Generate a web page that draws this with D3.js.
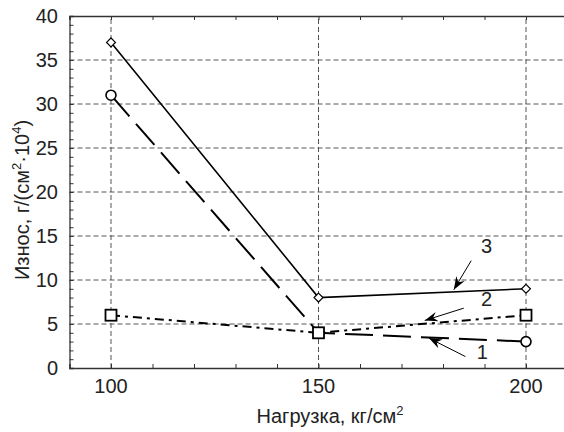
<!DOCTYPE html>
<html>
<head>
<meta charset="utf-8">
<script src="https://cdn.jsdelivr.net/npm/d3@7"></script>
<style>
  body { margin: 0; background: #fff; }
  text { font-family: "Liberation Sans", Arial, Helvetica, sans-serif; fill: #222; }
</style>
</head>
<body>
<div class="chart"></div>
<script>
// load values, kg/cm2
var loads = [100, 150, 200];
// wear values for each curve
var wear1 = [31, 4, 3];
var wear2 = [6, 4, 6];
var wear3 = [37, 8, 9];

var xTicks = [100, 150, 200];
var yTicks = [0, 5, 10, 15, 20, 25, 30, 35, 40];

// curve labels and arrows, in data units: label pos, arrow from, arrow to
var labelNames = ["1", "2", "3"];
var labelPos = [[189.5, 1.8], [190.5, 7.8], [190.5, 13.9]];
var arrowFrom = [[185.4, 1.3], [185, 6.8], [186.8, 12.2]];
var arrowTo = [[176.6, 3.4], [175.6, 5.4], [182.6, 8.9]];

var width = 564, height = 432;

var x = d3.scaleLinear().domain([90, 210]).range([69.5, 567.5]);
var y = d3.scaleLinear().domain([0, 40]).range([368, 16]);

var svg = d3.select(".chart")
    .append("svg")
    .attr("width", width)
    .attr("height", height);

svg.append("defs").append("marker")
    .attr("id", "arrow")
    .attr("viewBox", "0 0 12 10")
    .attr("refX", 12)
    .attr("refY", 5)
    .attr("markerWidth", 13)
    .attr("markerHeight", 11)
    .attr("markerUnits", "userSpaceOnUse")
    .attr("orient", "auto")
  .append("path")
    .attr("d", "M0,0.5 L12,5 L0,9.5 L4,5 Z")
    .style("fill", "#000");

// grid lines
svg.append("g")
    .selectAll("line")
    .data(yTicks.filter(function(d) { return d > 0 && d < 40; }))
    .enter().append("line")
    .attr("x1", x(90)).attr("x2", width)
    .attr("y1", function(d) { return y(d); })
    .attr("y2", function(d) { return y(d); })
    .style("stroke", "#555")
    .style("stroke-dasharray", "5,3");

svg.append("g")
    .selectAll("line")
    .data(xTicks)
    .enter().append("line")
    .attr("y1", y(0)).attr("y2", y(40))
    .attr("x1", function(d) { return x(d); })
    .attr("x2", function(d) { return x(d); })
    .style("stroke", "#555")
    .style("stroke-dasharray", "5,3");

// axes, ticks pointing inward
var xAxis = d3.axisBottom(x).tickValues(d3.range(90, 211, 10)).tickSize(-4).tickFormat("");
var xTop = d3.axisTop(x).tickValues(d3.range(90, 211, 10)).tickSize(-4).tickFormat("");
var yAxis = d3.axisLeft(y).tickValues(d3.range(0, 41, 1)).tickSize(-4).tickFormat("");

svg.append("g").attr("transform", "translate(0," + y(0) + ")").call(xAxis);
svg.append("g").attr("transform", "translate(0," + y(40) + ")").call(xTop);
svg.append("g").attr("transform", "translate(" + x(90) + ",0)").call(yAxis);
svg.selectAll(".domain").style("stroke", "#333").style("stroke-width", 1.3);
svg.selectAll(".tick line").style("stroke", "#333");

// tick labels
svg.append("g")
    .selectAll("text")
    .data(xTicks)
    .enter().append("text")
    .attr("x", function(d) { return x(d); })
    .attr("y", 393)
    .attr("text-anchor", "middle")
    .style("font-size", "20px")
    .text(function(d) { return d; });

svg.append("g")
    .selectAll("text")
    .data(yTicks)
    .enter().append("text")
    .attr("x", 58)
    .attr("y", function(d) { return y(d) + 7; })
    .attr("text-anchor", "end")
    .style("font-size", "20px")
    .text(function(d) { return d; });

// axis titles
var xt = svg.append("text")
    .attr("x", 330)
    .attr("y", 423)
    .attr("text-anchor", "middle")
    .style("font-size", "20px");
xt.append("tspan").text("Нагрузка, кг/см");
xt.append("tspan").attr("dy", -8).style("font-size", "13px").text("2");

var yt = svg.append("text")
    .attr("transform", "translate(29,200) rotate(-90)")
    .attr("text-anchor", "middle")
    .style("font-size", "20px");
yt.append("tspan").text("Износ, г/(см");
yt.append("tspan").attr("dy", -8).style("font-size", "13px").text("2");
yt.append("tspan").attr("dy", 8).text("·10");
yt.append("tspan").attr("dy", -8).style("font-size", "13px").text("4");
yt.append("tspan").attr("dy", 8).text(")");

// curves
var line = d3.line()
    .x(function(d) { return x(d[0]); })
    .y(function(d) { return y(d[1]); });

function pts(vals) {
    return loads.map(function(l, i) { return [l, vals[i]]; });
}

svg.append("path").datum(pts(wear3)).attr("d", line)
    .style("fill", "none").style("stroke", "#000").style("stroke-width", 1.6);
svg.append("path").datum(pts(wear1)).attr("d", line)
    .style("fill", "none").style("stroke", "#000").style("stroke-width", 2)
    .style("stroke-dasharray", "28,10");
svg.append("path").datum(pts(wear2)).attr("d", line)
    .style("fill", "none").style("stroke", "#000").style("stroke-width", 2)
    .style("stroke-dasharray", "9,5,3,5");

// markers
svg.append("g").selectAll("path")
    .data(pts(wear3))
    .enter().append("path")
    .attr("d", d3.symbol().type(d3.symbolDiamond2).size(50))
    .attr("transform", function(d) { return "translate(" + x(d[0]) + "," + y(d[1]) + ")"; })
    .style("fill", "#fff").style("stroke", "#000").style("stroke-width", 1.2);

svg.append("g").selectAll("circle")
    .data(pts(wear1))
    .enter().append("circle")
    .attr("cx", function(d) { return x(d[0]); })
    .attr("cy", function(d) { return y(d[1]); })
    .attr("r", 5)
    .style("fill", "#fff").style("stroke", "#000").style("stroke-width", 1.6);

svg.append("g").selectAll("rect")
    .data(pts(wear2))
    .enter().append("rect")
    .attr("x", function(d) { return x(d[0]) - 5.5; })
    .attr("y", function(d) { return y(d[1]) - 5.5; })
    .attr("width", 11).attr("height", 11)
    .style("fill", "#fff").style("stroke", "#000").style("stroke-width", 1.8);

// curve labels with arrows
svg.append("g").selectAll("line")
    .data(labelNames)
    .enter().append("line")
    .attr("x1", function(d, i) { return x(arrowFrom[i][0]); })
    .attr("y1", function(d, i) { return y(arrowFrom[i][1]); })
    .attr("x2", function(d, i) { return x(arrowTo[i][0]); })
    .attr("y2", function(d, i) { return y(arrowTo[i][1]); })
    .style("stroke", "#000").style("stroke-width", 1)
    .attr("marker-end", "url(#arrow)");

svg.append("g").selectAll("text")
    .data(labelNames)
    .enter().append("text")
    .attr("x", function(d, i) { return x(labelPos[i][0]); })
    .attr("y", function(d, i) { return y(labelPos[i][1]) + 7; })
    .attr("text-anchor", "middle")
    .style("font-size", "20px")
    .text(function(d) { return d; });
</script>
</body>
</html>
